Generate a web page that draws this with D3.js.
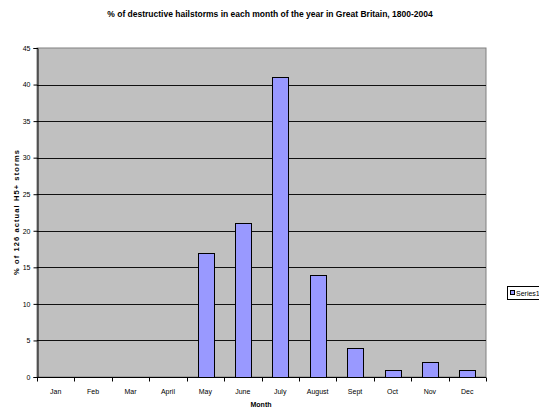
<!DOCTYPE html>
<html>
<head>
<meta charset="utf-8">
<script src="https://cdn.jsdelivr.net/npm/d3@7"></script>
<style>
  body { margin: 0; background: #fff; }
  text { font-family: "Liberation Sans", Arial, sans-serif; fill: #000; }
</style>
</head>
<body>
<svg id="chart" width="539" height="410"></svg>
<script>
// months along the x axis
const months = ["Jan", "Feb", "Mar", "April", "May", "June", "July", "August", "Sept", "Oct", "Nov", "Dec"];
// % of 126 storms in each month
const pctStorms = [0, 0, 0, 0, 17, 21, 41, 14, 4, 1, 2, 1];
const yTicks = [0, 5, 10, 15, 20, 25, 30, 35, 40, 45];

const svg = d3.select("#chart");
const plot = { left: 37, right: 486, top: 48, bottom: 377 };

const x = d3.scaleBand().domain(months).range([plot.left, plot.right]).paddingInner(0.58).paddingOuter(0.29);
const xEdge = d3.scaleLinear().domain([0, months.length]).range([plot.left, plot.right]);
const y = d3.scaleLinear().domain([0, 45]).range([plot.bottom, plot.top]);

// plot area background
svg.append("rect")
  .attr("x", plot.left).attr("y", plot.top)
  .attr("width", plot.right - plot.left).attr("height", plot.bottom - plot.top)
  .attr("fill", "#c0c0c0")
  .attr("stroke", "#808080");

// gridlines
svg.append("g").selectAll("line")
  .data(yTicks.filter(d => d > 0 && d < 45))
  .join("line")
  .attr("x1", plot.left).attr("x2", plot.right)
  .attr("y1", d => Math.round(y(d)) + 0.5).attr("y2", d => Math.round(y(d)) + 0.5)
  .attr("stroke", "#111");

// bars
svg.append("g").selectAll("rect")
  .data(months.map((m, i) => ({ m, v: pctStorms[i] })).filter(d => d.v > 0))
  .join("rect")
  .attr("x", d => Math.round(x(d.m)) + 0.5)
  .attr("y", d => Math.round(y(d.v)) + 0.5)
  .attr("width", Math.round(x.bandwidth()))
  .attr("height", d => Math.round(y(0)) - Math.round(y(d.v)))
  .attr("fill", "#9999ff")
  .attr("stroke", "#000");

// y axis
const yAxis = svg.append("g")
  .attr("transform", `translate(${plot.left + 0.5},0)`)
  .call(d3.axisLeft(y).tickValues(yTicks).tickSize(4).tickPadding(3));
yAxis.select(".domain").attr("stroke", "#000");
yAxis.selectAll("text").attr("font-size", 7).attr("fill", "#000");

// x axis, ticks at category edges
const xAxisG = svg.append("g").attr("transform", `translate(0,${plot.bottom + 0.5})`);
xAxisG.append("line").attr("x1", plot.left).attr("x2", plot.right).attr("stroke", "#000");
xAxisG.selectAll("line.tick")
  .data(d3.range(months.length + 1))
  .join("line")
  .attr("class", "tick")
  .attr("x1", d => Math.round(xEdge(d)) + 0.5).attr("x2", d => Math.round(xEdge(d)) + 0.5)
  .attr("y1", 0).attr("y2", 4)
  .attr("stroke", "#000");
xAxisG.selectAll("text")
  .data(months)
  .join("text")
  .attr("x", d => x(d) + x.bandwidth() / 2)
  .attr("y", 16)
  .attr("text-anchor", "middle")
  .attr("font-size", 7)
  .attr("fill", "#000")
  .text(d => d);

// titles
svg.append("text")
  .attr("x", 270).attr("y", 17)
  .attr("text-anchor", "middle")
  .attr("font-size", 8.5).attr("font-weight", "bold")
  .text("% of destructive hailstorms in each month of the year in Great Britain, 1800-2004");

svg.append("text")
  .attr("x", 261).attr("y", 407)
  .attr("text-anchor", "middle")
  .attr("font-size", 7).attr("font-weight", "bold")
  .text("Month");

svg.append("text")
  .attr("transform", "translate(19,212) rotate(-90)")
  .attr("text-anchor", "middle")
  .attr("font-size", 7.5).attr("font-weight", "bold")
  .attr("letter-spacing", 1.1)
  .text("% of 126 actual H5+ storms");

// legend
const legend = svg.append("g").attr("transform", "translate(507,286)");
legend.append("rect").attr("x", 0.5).attr("y", 0.5).attr("width", 40).attr("height", 13)
  .attr("fill", "#fff").attr("stroke", "#000");
legend.append("rect").attr("x", 3.5).attr("y", 4.5).attr("width", 4).attr("height", 4)
  .attr("fill", "#9999ff").attr("stroke", "#000");
legend.append("text").attr("x", 9).attr("y", 9.5).attr("font-size", 7).text("Series1");
</script>
</body>
</html>
